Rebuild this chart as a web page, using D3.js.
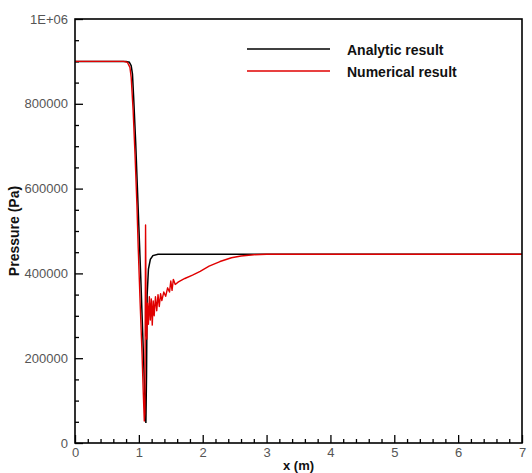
<!DOCTYPE html>
<html>
<head>
<meta charset="utf-8">
<script src="https://cdn.jsdelivr.net/npm/d3@7"></script>
<style>
  html, body { margin: 0; padding: 0; background: #fff; }
  svg { display: block; font-family: "Liberation Sans", Arial, sans-serif; }
</style>
</head>
<body>
<svg id="chart" width="532" height="473"></svg>
<script>
// Presión vs x: resultado analítico (negro) y numérico (rojo)

const xTicks = [0, 1, 2, 3, 4, 5, 6, 7];
const yTicks = [0, 200000, 400000, 600000, 800000, 1000000];
const yTickLabels = ['0', '200000', '400000', '600000', '800000', '1E+06'];
const seriesNames = ['Analytic result', 'Numerical result'];

// [x (m), presión (Pa)]
const analytic = [
  [0, 900000], [0.80, 900000], [0.85, 898000], [0.88, 890000], [0.90, 870000],
  [0.92, 810000], [0.95, 710000], [0.98, 590000], [1.00, 510000], [1.03, 390000],
  [1.06, 260000], [1.09, 125000], [1.11, 47000], [1.12, 160000], [1.13, 350000],
  [1.15, 410000], [1.18, 433000], [1.22, 442000], [1.30, 445000], [7, 445000]
];
const numerical = [
  [0, 900000], [0.76, 900000], [0.82, 898000], [0.86, 886000], [0.88, 862000],
  [0.91, 785000], [0.94, 680000], [0.97, 560000], [0.99, 460000], [1.02, 330000],
  [1.05, 210000], [1.07, 115000], [1.085, 52000], [1.095, 70000], [1.10, 300000],
  [1.105, 514000], [1.11, 400000], [1.115, 265000], [1.125, 245000], [1.135, 330000],
  [1.15, 280000], [1.165, 345000], [1.18, 290000], [1.195, 340000], [1.21, 278000],
  [1.225, 335000], [1.24, 300000], [1.26, 345000], [1.28, 312000], [1.30, 350000],
  [1.32, 322000], [1.34, 352000], [1.36, 336000], [1.39, 356000], [1.42, 346000],
  [1.45, 366000], [1.48, 356000], [1.50, 382000], [1.52, 360000], [1.54, 386000],
  [1.57, 374000], [1.62, 380000], [1.72, 388000], [1.84, 396000], [1.96, 405000],
  [2.10, 417000], [2.27, 428000], [2.45, 437000], [2.60, 441000], [2.80, 444000],
  [3.00, 445000], [7, 445000]
];

const W = 532, H = 473;
const M = { top: 19, right: 10, bottom: 30, left: 75 };
const x0 = M.left, x1 = W - M.right, y0 = H - M.bottom, y1 = M.top;

const svg = d3.select('#chart');
const x = d3.scaleLinear().domain([0, 7]).range([x0, x1]);
const y = d3.scaleLinear().domain([0, 1000000]).range([y0, y1]);

// ticks menores
const xMinor = d3.range(0, 7.001, 0.2).filter(v => Math.abs(v - Math.round(v)) > 1e-6);
const yMinor = d3.range(0, 1000001, 50000).filter(v => v % 200000 !== 0);

svg.append('g').attr('transform', `translate(0,${y0})`)
  .call(d3.axisBottom(x).tickValues(xTicks).tickSize(-8).tickPadding(5).tickFormat(d3.format('d')));
svg.append('g').attr('transform', `translate(0,${y0})`)
  .call(d3.axisBottom(x).tickValues(xMinor).tickSize(-4).tickFormat(''));
svg.append('g').attr('transform', `translate(${x0},0)`)
  .call(d3.axisLeft(y).tickValues(yTicks).tickSize(-8).tickPadding(7).tickFormat((d, i) => yTickLabels[i]));
svg.append('g').attr('transform', `translate(${x0},0)`)
  .call(d3.axisLeft(y).tickValues(yMinor).tickSize(-4).tickFormat(''));

svg.selectAll('.domain').remove();
svg.selectAll('.tick line').attr('stroke', '#000').attr('stroke-width', 1.3);
svg.selectAll('.tick text').attr('fill', '#555').style('font-size', '13px')
  .style('font-family', '"Liberation Sans", Arial, sans-serif');

const line = d3.line().x(d => x(d[0])).y(d => y(d[1]));

svg.append('path').datum(analytic).attr('d', line)
  .attr('fill', 'none').attr('stroke', '#000').attr('stroke-width', 1.5);
svg.append('path').datum(numerical).attr('d', line)
  .attr('fill', 'none').attr('stroke', '#e00000').attr('stroke-width', 1.4)
  .attr('stroke-linejoin', 'round');

// marco
svg.append('rect').attr('x', x0).attr('y', y1).attr('width', x1 - x0).attr('height', y0 - y1)
  .attr('fill', 'none').attr('stroke', '#000').attr('stroke-width', 1.6);

// leyenda
const leg = svg.append('g');
seriesNames.forEach((nm, i) => {
  const ly = 49 + i * 22;
  leg.append('line').attr('x1', 247).attr('x2', 330).attr('y1', ly).attr('y2', ly)
    .attr('stroke', i === 0 ? '#000' : '#e00000').attr('stroke-width', 1.5);
  leg.append('text').attr('x', 347).attr('y', ly + 6)
    .attr('font-weight', 700).style('font-size', '14px').attr('fill', '#111')
    .text(nm);
});

// títulos de ejes
svg.append('text').attr('x', (x0 + x1) / 2).attr('y', 470).attr('text-anchor', 'middle')
  .attr('font-weight', 700).style('font-size', '13px').attr('fill', '#111').text('x (m)');
svg.append('text').attr('transform', `translate(19,${(y0 + y1) / 2}) rotate(-90)`)
  .attr('text-anchor', 'middle').attr('font-weight', 700).style('font-size', '14px')
  .attr('fill', '#111').text('Pressure (Pa)');
</script>
</body>
</html>
